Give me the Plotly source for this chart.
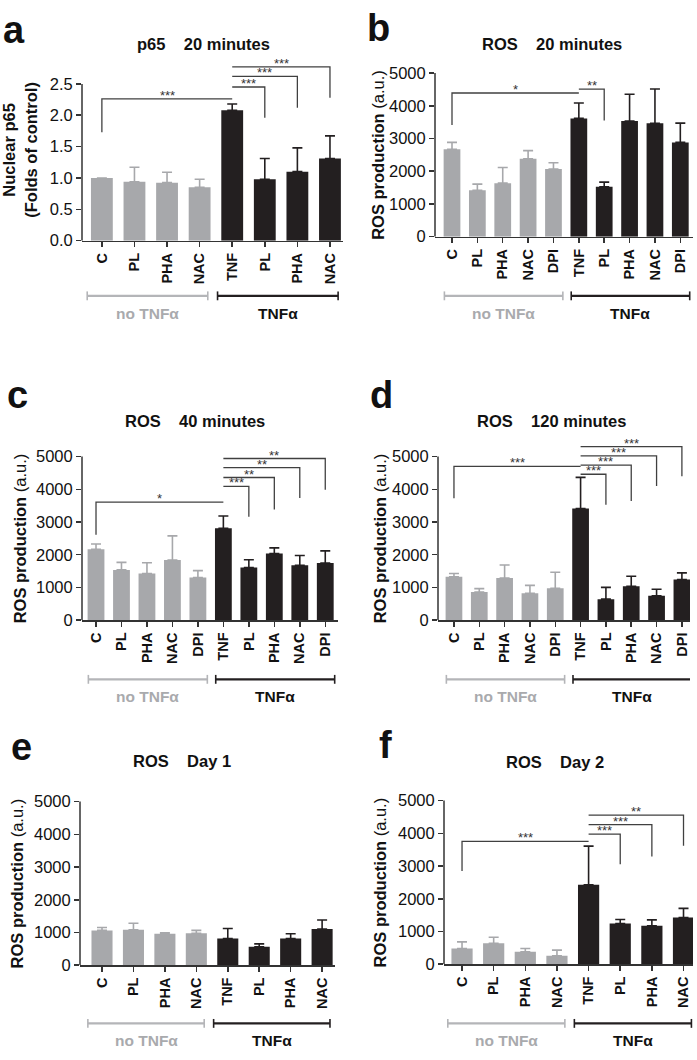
import plotly.graph_objects as go

FONT = "Liberation Sans, Arial, Helvetica, sans-serif"
GREY = "#a7a8ab"
BLACK = "#231f20"
BRK = "#404040"
AX = "#333333"
W, H = 697, 1060

# ---------------- data ----------------
labels8 = ["C", "PL", "PHA", "NAC", "TNF", "PL", "PHA", "NAC"]
labels10 = ["C", "PL", "PHA", "NAC", "DPI", "TNF", "PL", "PHA", "NAC", "DPI"]

p65_ticks = [0, 0.5, 1.0, 1.5, 2.0, 2.5]
p65_ticktext = ["0.0", "0.5", "1.0", "1.5", "2.0", "2.5"]
ros_ticks = [0, 1000, 2000, 3000, 4000, 5000]
ros_ticktext = ["0", "1000", "2000", "3000", "4000", "5000"]

# a: p65 20 minutes
a_vals = [1.00, 0.94, 0.925, 0.85, 2.08, 0.98, 1.10, 1.31]
a_err = [0.0, 0.23, 0.165, 0.13, 0.10, 0.33, 0.38, 0.36]
# (from, to, level, drop, stars, drop side)
a_br = [(0, 4, 2.26, 1.73, "***", "L"), (4, 5, 2.45, 1.96, "***", "R"),
        (4, 6, 2.62, 2.12, "***", "R"), (4, 7, 2.77, 2.28, "***", "R")]

# b: ROS 20 minutes
b_vals = [2670, 1415, 1636, 2380, 2068, 3614, 1526, 3534, 3464, 2881]
b_err = [210, 190, 480, 250, 190, 470, 140, 820, 1050, 590]
b_br = [(0, 5, 4390, 3410, "*", "L"), (5, 6, 4510, 3550, "**", "R")]

# c: ROS 40 minutes
c_vals = [2169, 1536, 1426, 1837, 1305, 2811, 1606, 2038, 1677, 1747]
c_err = [160, 230, 330, 740, 210, 370, 240, 170, 300, 370]
c_br = [(0, 5, 3605, 2610, "*", "L"), (5, 6, 4087, 3160, "***", "R"),
        (5, 7, 4359, 3380, "**", "R"), (5, 8, 4660, 3735, "**", "R"),
        (5, 9, 4940, 3985, "**", "R")]

# d: ROS 120 minutes
d_vals = [1325, 863, 1285, 823, 974, 3414, 643, 1034, 743, 1245]
d_err = [100, 100, 400, 240, 490, 950, 360, 310, 200, 200]
d_br = [(0, 5, 4699, 3725, "***", "L"), (5, 6, 4458, 3524, "***", "R"),
        (5, 7, 4739, 3645, "***", "R"), (5, 8, 5020, 4096, "***", "R"),
        (5, 9, 5301, 4398, "***", "R")]

# e: ROS Day 1
e_vals = [1064, 1084, 964, 974, 813, 562, 813, 1104]
e_err = [90, 200, 30, 90, 310, 90, 150, 280]
e_br = []

# f: ROS Day 2
f_vals = [482, 643, 382, 261, 2430, 1245, 1175, 1426]
f_err = [200, 180, 100, 170, 1180, 120, 180, 280]
f_br = [(0, 4, 3755, 2851, "***", "L"), (4, 5, 3976, 3052, "***", "R"),
        (4, 6, 4267, 3293, "***", "R"), (4, 7, 4558, 3624, "**", "R")]

group_names = ["no TNF\u03b1", "TNF\u03b1"]

ROS_T = "<b>ROS production</b> (a.u.)"
SP = "\u00a0\u00a0\u00a0\u00a0"

panels = [
    dict(letter="a", title="p65" + SP + "20 minutes", labels=labels8, nno=4,
         vals=a_vals, err=a_err, br=a_br, ytitle="<b>Nuclear p65<br>(Folds of control)</b>",
         tv=p65_ticks, tt=p65_ticktext, ttop=2.5, ymid=1.45,
         xpx=(82, 343), xr=(-0.61, 7.4), y0px=238, ytoppx=79, rtop=3.0,
         gl=294, gt=312, ytx=20, tit=(203, 39), let=(14, 24), pad=(0.45, 0.25)),
    dict(letter="b", title="ROS" + SP + "20 minutes", labels=labels10, nno=5,
         vals=b_vals, err=b_err, br=b_br, ytitle=ROS_T,
         tv=ros_ticks, tt=ros_ticktext, ttop=5000, ymid=2500,
         xpx=(435, 693), xr=(-0.67, 9.5), y0px=234, ytoppx=68, rtop=5500,
         gl=294, gt=312, ytx=378, tit=(552, 39), let=(378, 22), pad=(0.3, 0.37)),
    dict(letter="c", title="ROS" + SP + "40 minutes", labels=labels10, nno=5,
         vals=c_vals, err=c_err, br=c_br, ytitle=ROS_T,
         tv=ros_ticks, tt=ros_ticktext, ttop=5000, ymid=2500,
         xpx=(82, 338), xr=(-0.55, 9.5), y0px=623, ytoppx=457, rtop=5400,
         gl=683, gt=700, ytx=20, tit=(195, 421), let=(17, 395), pad=(0.3, 0.37)),
    dict(letter="d", title="ROS" + SP + "120 minutes", labels=labels10, nno=5,
         vals=d_vals, err=d_err, br=d_br, ytitle=ROS_T,
         tv=ros_ticks, tt=ros_ticktext, ttop=5000, ymid=2500,
         xpx=(438, 690), xr=(-0.63, 9.32), y0px=623, ytoppx=457, rtop=5700,
         gl=683, gt=700, ytx=380, tit=(551, 421), let=(381, 395), pad=(0.3, 0.37)),
    dict(letter="e", title="ROS" + SP + "Day 1", labels=labels8, nno=4,
         vals=e_vals, err=e_err, br=e_br, ytitle=ROS_T,
         tv=ros_ticks, tt=ros_ticktext, ttop=5000, ymid=2500,
         xpx=(80, 335), xr=(-0.7, 7.41), y0px=973, ytoppx=807, rtop=5100,
         gl=1032, gt=1049, ytx=17, tit=(182, 766), let=(21, 752), pad=(0.45, 0.25)),
    dict(letter="f", title="ROS" + SP + "Day 2", labels=labels8, nno=4,
         vals=f_vals, err=f_err, br=f_br, ytitle=ROS_T,
         tv=ros_ticks, tt=ros_ticktext, ttop=5000, ymid=2500,
         xpx=(444, 693), xr=(-0.57, 7.3), y0px=972, ytoppx=806, rtop=5200,
         gl=1032, gt=1049, ytx=380, tit=(555, 767), let=(385, 750), pad=(0.45, 0.25)),
]

fig = go.Figure()
shapes = []
annots = []


def px_x(p):
    return p / W


def px_y(p):
    return 1 - p / H


for k, P in enumerate(panels, start=1):
    xa = "x" if k == 1 else f"x{k}"
    ya = "y" if k == 1 else f"y{k}"
    xkey = "xaxis" if k == 1 else f"xaxis{k}"
    ykey = "yaxis" if k == 1 else f"yaxis{k}"
    n = len(P["labels"])
    nno = P["nno"]
    idx = list(range(n))
    wbar = 0.67 if n == 8 else 0.66

    for g, (sl, col) in enumerate([(slice(0, nno), GREY), (slice(nno, n), BLACK)]):
        fig.add_trace(go.Bar(
            x=idx[sl], y=P["vals"][sl], width=wbar, marker=dict(color=col, line=dict(width=0)),
            error_y=dict(type="data", symmetric=False, array=P["err"][sl],
                         arrayminus=[0] * len(P["err"][sl]), color=col, thickness=1.6, width=5),
            xaxis=xa, yaxis=ya, showlegend=False, hoverinfo="skip"))

    # domains
    ppu = (P["y0px"] - P["ytoppx"]) / P["ttop"]
    toppx = P["y0px"] - P["rtop"] * ppu
    fig.layout[xkey] = dict(
        domain=[px_x(P["xpx"][0]), px_x(P["xpx"][1])], range=list(P["xr"]), anchor=ya,
        tickmode="array", tickvals=idx, ticktext=[f"<b>{t}</b>" for t in P["labels"]],
        tickangle=-90, ticks="outside", ticklen=5, tickwidth=1.5, tickcolor=AX,
        showline=True, linecolor=AX, linewidth=1.5, showgrid=False, zeroline=False,
        tickfont=dict(family=FONT, size=14.5, color="#111"), fixedrange=True)
    fig.layout[ykey] = dict(
        domain=[px_y(P["y0px"]), px_y(toppx)], range=[0, P["rtop"]], anchor=xa,
        tickmode="array", tickvals=P["tv"], ticktext=P["tt"],
        ticks="outside", ticklen=5, tickwidth=1.5, tickcolor=AX,
        showline=False, showgrid=False, zeroline=False,
        tickfont=dict(family=FONT, size=16.5, color="#111"), fixedrange=True)

    # y axis line up to the top tick
    shapes.append(dict(type="line", xref=f"{xa} domain", yref=ya, x0=0, x1=0,
                       y0=0, y1=P["ttop"], line=dict(color=AX, width=1.5)))

    # significance brackets
    for (i0, i1, lev, drop, stars, side) in P["br"]:
        if side == "L":
            path = f"M {i0},{drop} L {i0},{lev} L {i1},{lev}"
        else:
            path = f"M {i0},{lev} L {i1},{lev} L {i1},{drop}"
        shapes.append(dict(type="path", path=path, xref=xa, yref=ya,
                           line=dict(color=BRK, width=1.3)))
        annots.append(dict(x=(i0 + i1) / 2, y=lev, xref=xa, yref=ya, text=stars,
                           showarrow=False, xanchor="center", yanchor="bottom", yshift=-6,
                           font=dict(family=FONT, size=13, color="#333")))

    # group lines below the axis
    padl, padr = P["pad"]
    spans = [(0 - padl, nno - 1 + padr, "#b4b5b8", 2.4), (nno - padl, n - 1 + padr, BLACK, 2.2)]
    yl = px_y(P["gl"])
    cap = 4.5 / H
    for (s0, s1, col, lw), name in zip(spans, group_names):
        shapes.append(dict(type="line", xref=xa, yref="paper", x0=s0, x1=s1, y0=yl, y1=yl,
                           line=dict(color=col, width=lw)))
        for xx in (s0, s1):
            shapes.append(dict(type="line", xref=xa, yref="paper", x0=xx, x1=xx,
                               y0=yl - cap, y1=yl + cap, line=dict(color=col, width=1.6)))
        annots.append(dict(x=(s0 + s1) / 2, y=px_y(P["gt"]), xref=xa, yref="paper",
                           text=f"<b>{name}</b>", showarrow=False, xanchor="center",
                           yanchor="middle",
                           font=dict(family=FONT, size=15.5,
                                     color="#a9aaad" if col != BLACK else "#111")))

    # y axis title
    annots.append(dict(x=px_x(P["ytx"]), y=P["ymid"], xref="paper", yref=ya, text=P["ytitle"],
                       textangle=-90, showarrow=False, xanchor="center", yanchor="middle",
                       font=dict(family=FONT, size=16.5, color="#111")))
    # panel title
    annots.append(dict(x=px_x(P["tit"][0]), y=px_y(P["tit"][1]), xref="paper", yref="paper",
                       text=f"<b>{P['title']}</b>", showarrow=False, xanchor="center",
                       yanchor="middle", font=dict(family=FONT, size=16.5, color="#111")))
    # panel letter
    annots.append(dict(x=px_x(P["let"][0]), y=px_y(P["let"][1]), xref="paper", yref="paper",
                       text=f"<b>{P['letter']}</b>", showarrow=False, xanchor="center",
                       yanchor="middle", font=dict(family=FONT, size=38, color="#111")))

fig.update_layout(
    width=W, height=H, autosize=False,
    margin=dict(l=0, r=0, t=0, b=0, pad=0),
    paper_bgcolor="white", plot_bgcolor="white",
    showlegend=False, barmode="overlay",
    shapes=shapes, annotations=annots,
    font=dict(family=FONT, color="#111"),
)

fig.write_html(
    "out.html",
    config={"displayModeBar": False, "staticPlot": True},
    post_script="document.body.style.margin='0';document.body.style.padding='0';"
                "document.body.style.overflow='hidden';",
)
